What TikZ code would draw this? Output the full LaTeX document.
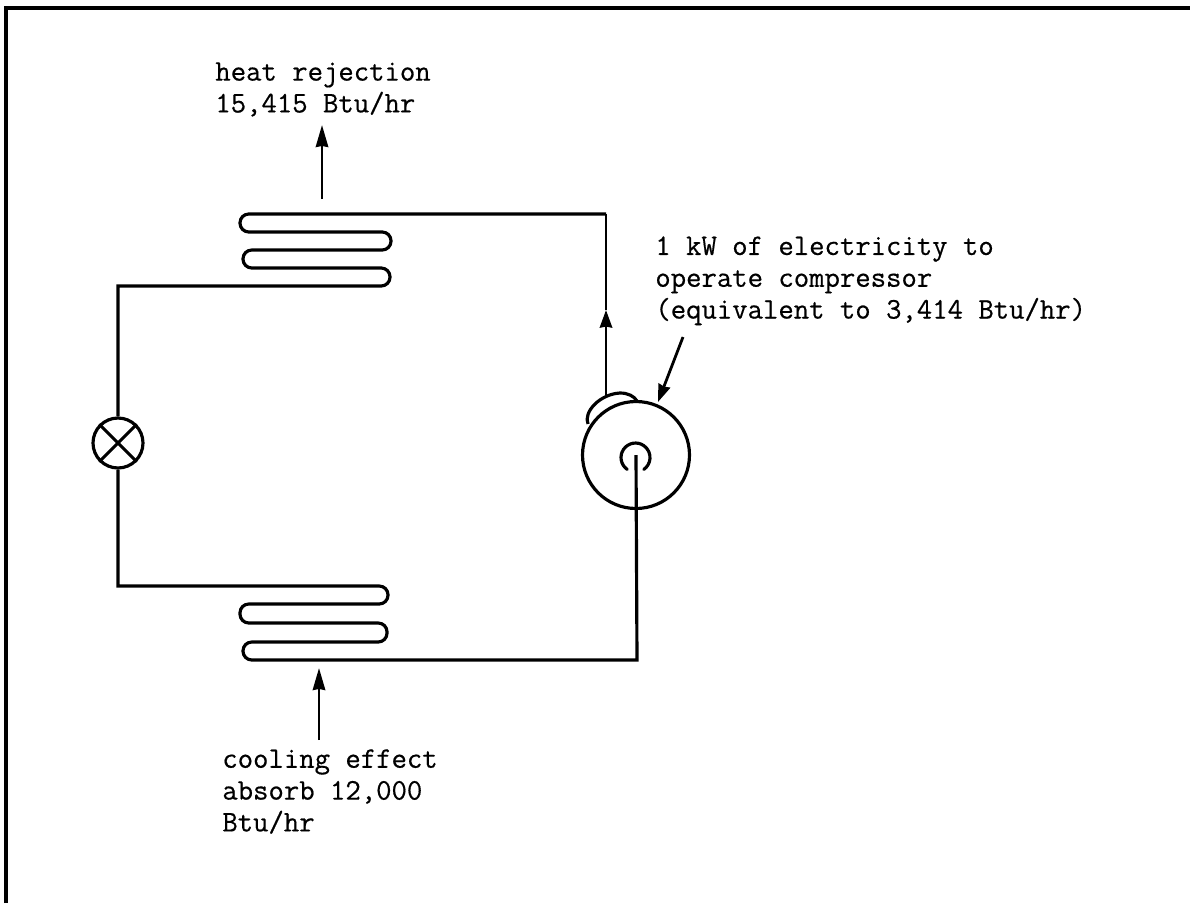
\documentclass[tikz,border=0pt]{standalone}
\usepackage{fontspec}
\setmonofont{Latin Modern Mono}[FakeBold=0.5]
\usepackage{tikz}
\usetikzlibrary{arrows.meta,positioning,calc}
\tikzset{
  basetext/.style={align=left,inner sep=0pt,anchor=north west,
                   font=\fontsize{17}{18.1}\selectfont\ttfamily\bfseries},
  pipe/.style={line width=1.8pt,color=black},
  framel/.style={line width=1.9pt,color=black},
  valvenode/.style={circle,draw=black,line width=1.8pt,fill=white,
                    minimum size=1cm,inner sep=0pt},
  compnode/.style={circle,draw=black,line width=1.8pt,
                   minimum size=2.14cm,inner sep=0pt},
  arr/.style={-{Stealth[length=12.5pt,width=7pt,inset=0.6pt]},line width=1.6pt,color=black},
  flowarr/.style={-{Stealth[length=10pt,width=7pt,inset=0.6pt]},line width=1.6pt,color=black}
}
\begin{document}
\begin{tikzpicture}[x=0.02cm,y=-0.02cm]
  \useasboundingbox (0,0) rectangle (1190,903);

  % Frame
  \coordinate (fr_bl) at (6,903);
  \coordinate (fr_tl) at (6,8);
  \coordinate (fr_tr) at (1190,8);
  \draw[framel] (fr_bl) -- (fr_tl) -- (fr_tr);

  % Valve and compressor
  \node[valvenode] (valve) at (118,443) {};
  \node[compnode] (comp) at (636,455) {};
  \coordinate (comp_eye) at (636,455);
  \coordinate (comp_out) at (606,396);

  % Corners of the loop
  \coordinate (top_r) at (606,214);
  \coordinate (low_r) at (637,660);
  \coordinate (up_l) at (118,286);
  \coordinate (low_l) at (118,586);

  % Condenser
  \draw[pipe] (top_r) -- (260,214) [rounded corners=5pt] -- (240,214) -- (240,232)
      -- (391,232) -- (391,250) -- (243,250) -- (243,268) -- (390,268) -- (390,286)
      -- (370,286) [sharp corners] -- (up_l) -- (valve.north);

  % Evaporator
  \draw[pipe] (valve.south) -- (low_l) -- (370,586) [rounded corners=5pt] -- (388,586)
      -- (388,604) -- (240,604) -- (240,623) -- (387,623) -- (387,642) -- (243,642)
      -- (243,660) -- (260,660) [sharp corners] -- (low_r) -- (comp_eye);

  % Valve cross
  \draw[pipe] (valve.north west) -- (valve.south east);
  \draw[pipe] (valve.north east) -- (valve.south west);

  % Compressor details
  \coordinate (eye_l) at (627.2,469.4);
  \draw[pipe,line cap=round] (eye_l) arc[start angle=125,end angle=415,radius=14.5];
  \coordinate (dome_a) at (588,424);
  \coordinate (dome_b) at (637,401);
  \draw[pipe] (dome_a) .. controls (583,412) and (600,394) .. (620,393)
      .. controls (628,393) and (634,396) .. (dome_b);

  % Pipe arrow
  \coordinate (pipe_tip) at (606,310);
  \draw[flowarr] (comp_out) -- (pipe_tip);
  \draw[line width=1.6pt] (pipe_tip) -- (top_r);

  % Labels
  \node[basetext] (heat) at (215,62) {heat rejection\\15,415 Btu/hr};
  \node[basetext] (elec) at (655,236) {1 kW of electricity to\\operate compressor\\(equivalent to 3,414 Btu/hr)};
  \node[basetext] (cool) at (222,749) {cooling effect\\absorb 12,000\\Btu/hr};

  % Arrows
  \coordinate (heat_s) at (322,199);
  \coordinate (heat_e) at (322,125);
  \coordinate (cool_s) at (319,740);
  \coordinate (cool_e) at (319,668);
  \coordinate (elec_s) at (683,337);
  \coordinate (elec_e) at (658,402);
  \draw[arr] (heat_s) -- (heat_e);
  \draw[arr] (cool_s) -- (cool_e);
  \draw[flowarr] (elec_s) -- (elec_e);

\end{tikzpicture}
\end{document}
